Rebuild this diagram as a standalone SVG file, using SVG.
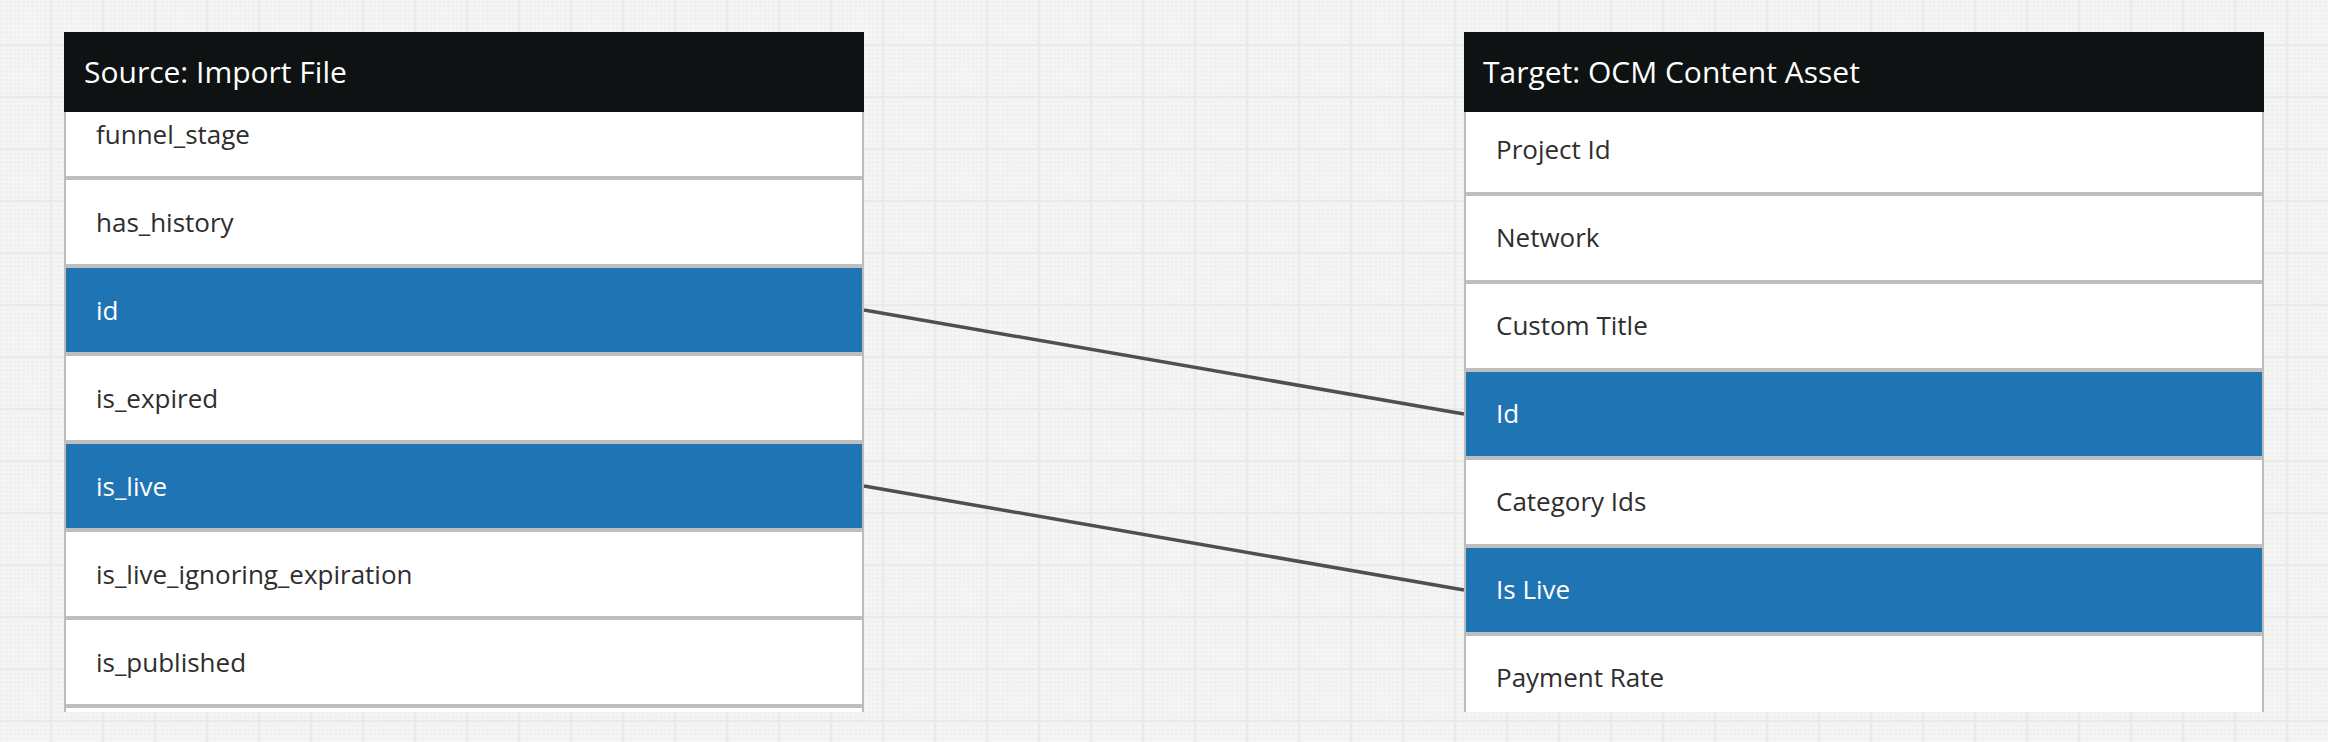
<svg xmlns="http://www.w3.org/2000/svg" width="2328" height="742" viewBox="0 0 2328 742">
  <defs>
    <pattern id="dots" patternUnits="userSpaceOnUse" x="0" y="0" width="4.333" height="4.333">
      <rect x="1" y="1" width="2" height="2" fill="#ececec"/>
    </pattern>
    <pattern id="grid" patternUnits="userSpaceOnUse" x="49.75" y="43.75" width="52" height="52">
      <rect x="0" y="0" width="2.5" height="52" fill="#e9e9e9"/>
      <rect x="0" y="0" width="52" height="2.5" fill="#e9e9e9"/>
    </pattern>
    <clipPath id="clipL"><rect x="64" y="112" width="800" height="600"/></clipPath>
    <clipPath id="clipR"><rect x="1464" y="112" width="800" height="600"/></clipPath>
    <style>
      .hdr { fill: #0f1213; }
      .hdrtxt { font-family: "Open Sans", "Liberation Sans", sans-serif; font-size: 30px; fill: #ffffff; }
      .row { fill: #ffffff; }
      .sel { fill: #1f74b3; }
      .sep { fill: #bebebe; }
      .edge { fill: #bdbdbd; }
      .txt { font-family: "Open Sans", "Liberation Sans", sans-serif; font-size: 26px; fill: #2e2e2e; }
      .seltxt { font-family: "Open Sans", "Liberation Sans", sans-serif; font-size: 26px; fill: #ffffff; }
      .conn { stroke: #4d5053; stroke-width: 3.5; fill: none; }
    </style>
  </defs>

  <!-- background -->
  <rect x="0" y="0" width="2328" height="742" fill="#f5f5f5"/>
  <rect x="0" y="0" width="2328" height="742" fill="url(#dots)"/>
  <rect x="0" y="0" width="2328" height="742" fill="url(#grid)"/>

  <!-- Source table -->
  <g id="source-table">
    <g clip-path="url(#clipL)">
      <rect class="row" x="64" y="92" width="800" height="620"/>
      <g id="src-funnel_stage"><text class="txt" x="96" y="144">funnel_stage</text></g>
      <rect class="sep" x="64" y="176" width="800" height="4"/>
      <g id="src-has_history"><text class="txt" x="96" y="232">has_history</text></g>
      <rect class="sep" x="64" y="264" width="800" height="4"/>
      <g id="src-id"><rect class="sel" x="64" y="268" width="800" height="84"/><text class="seltxt" x="96" y="320">id</text></g>
      <rect class="sep" x="64" y="352" width="800" height="4"/>
      <g id="src-is_expired"><text class="txt" x="96" y="408">is_expired</text></g>
      <rect class="sep" x="64" y="440" width="800" height="4"/>
      <g id="src-is_live"><rect class="sel" x="64" y="444" width="800" height="84"/><text class="seltxt" x="96" y="496">is_live</text></g>
      <rect class="sep" x="64" y="528" width="800" height="4"/>
      <g id="src-is_live_ignoring_expiration"><text class="txt" x="96" y="584">is_live_ignoring_expiration</text></g>
      <rect class="sep" x="64" y="616" width="800" height="4"/>
      <g id="src-is_published"><text class="txt" x="96" y="672">is_published</text></g>
      <rect class="sep" x="64" y="704" width="800" height="4"/>
      <rect class="edge" x="64" y="112" width="2" height="600"/>
      <rect class="edge" x="862" y="112" width="2" height="600"/>
    </g>
    <rect class="hdr" x="64" y="32" width="800" height="80"/>
    <text class="hdrtxt" x="84" y="83">Source: Import File</text>
  </g>

  <!-- Target table -->
  <g id="target-table">
    <g clip-path="url(#clipR)">
      <rect class="row" x="1464" y="108" width="800" height="604"/>
      <g id="tgt-project-id"><text class="txt" x="1496" y="159">Project Id</text></g>
      <rect class="sep" x="1464" y="192" width="800" height="4"/>
      <g id="tgt-network"><text class="txt" x="1496" y="247">Network</text></g>
      <rect class="sep" x="1464" y="280" width="800" height="4"/>
      <g id="tgt-custom-title"><text class="txt" x="1496" y="335">Custom Title</text></g>
      <rect class="sep" x="1464" y="368" width="800" height="4"/>
      <g id="tgt-id"><rect class="sel" x="1464" y="372" width="800" height="84"/><text class="seltxt" x="1496" y="423">Id</text></g>
      <rect class="sep" x="1464" y="456" width="800" height="4"/>
      <g id="tgt-category-ids"><text class="txt" x="1496" y="511">Category Ids</text></g>
      <rect class="sep" x="1464" y="544" width="800" height="4"/>
      <g id="tgt-is-live"><rect class="sel" x="1464" y="548" width="800" height="84"/><text class="seltxt" x="1496" y="599">Is Live</text></g>
      <rect class="sep" x="1464" y="632" width="800" height="4"/>
      <g id="tgt-payment-rate"><text class="txt" x="1496" y="687">Payment Rate</text></g>
      <rect class="edge" x="1464" y="112" width="2" height="600"/>
      <rect class="edge" x="2262" y="112" width="2" height="600"/>
    </g>
    <rect class="hdr" x="1464" y="32" width="800" height="80"/>
    <text class="hdrtxt" x="1483" y="83">Target: OCM Content Asset</text>
  </g>

  <!-- connectors -->
  <g id="connectors">
    <line class="conn" x1="864" y1="310" x2="1464" y2="414"/>
    <line class="conn" x1="864" y1="486" x2="1464" y2="590"/>
  </g>
</svg>
